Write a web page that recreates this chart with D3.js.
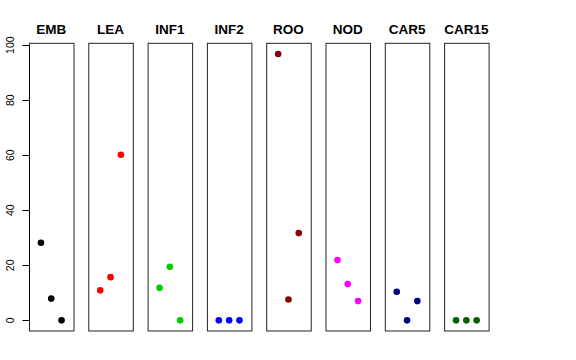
<!DOCTYPE html>
<html>
<head>
<meta charset="utf-8">
<script src="https://cdn.jsdelivr.net/npm/d3@7"></script>
<style>
  body { margin: 0; background: #fff; }
  text { font-family: "Liberation Sans", Arial, sans-serif; }
</style>
</head>
<body>
<script>
const panels = ['EMB', 'LEA', 'INF1', 'INF2', 'ROO', 'NOD', 'CAR5', 'CAR15'];
const colors = ['#000000', '#FF0000', '#00CD00', '#0000FF', '#8B0000', '#FF00FF', '#000080', '#006400'];
const values = [
  [28.2, 7.9, 0],
  [10.9, 15.7, 60.2],
  [11.8, 19.5, 0],
  [0, 0, 0],
  [96.8, 7.6, 31.7],
  [21.9, 13.2, 7.0],
  [10.4, 0, 7.0],
  [0, 0, 0],
];
const yTicks = [0, 20, 40, 60, 80, 100];

const width = 576;
const height = 360;
const plotTop = 43.3;
const plotBottom = 331;
const firstLeft = 29;
const panelW = 44.5;
const step = 59.3;

const svg = d3.select('body').append('svg')
  .attr('width', width)
  .attr('height', height);

// R style: pad range by 4% on each side
const yMax = d3.max(values.flat());
const yPad = yMax * 0.04;
const yScale = d3.scaleLinear()
  .domain([0 - yPad, yMax + yPad])
  .range([plotBottom, plotTop]);

const xScale = d3.scaleLinear()
  .domain([-0.16, 4.16])
  .range([0, panelW]);

panels.forEach((name, i) => {
  const g = svg.append('g')
    .attr('transform', `translate(${firstLeft + i * step},0)`);

  g.append('rect')
    .attr('x', 0.5)
    .attr('y', plotTop)
    .attr('width', panelW)
    .attr('height', plotBottom - plotTop)
    .attr('fill', 'none')
    .attr('stroke', '#222')
    .attr('stroke-width', 1);

  g.append('text')
    .attr('x', panelW / 2)
    .attr('y', 34)
    .attr('text-anchor', 'middle')
    .attr('font-weight', 'bold')
    .attr('font-size', 13.5)
    .text(name);

  g.selectAll('circle')
    .data(values[i])
    .enter()
    .append('circle')
    .attr('cx', (d, j) => xScale(j + 1))
    .attr('cy', (d) => yScale(d))
    .attr('r', 3.3)
    .attr('fill', colors[i]);
});

// y axis on the first panel, ticks pointing left
const axis = svg.append('g')
  .attr('transform', `translate(${firstLeft + 0.5},0)`);

axis.append('line')
  .attr('y1', yScale(0))
  .attr('y2', yScale(100))
  .attr('stroke', '#000');

axis.selectAll('.tick')
  .data(yTicks)
  .enter()
  .append('line')
  .attr('x1', 0)
  .attr('x2', -7)
  .attr('y1', (d) => Math.round(yScale(d)) + 0.5)
  .attr('y2', (d) => Math.round(yScale(d)) + 0.5)
  .attr('stroke', '#000');

axis.selectAll('.lab')
  .data(yTicks)
  .enter()
  .append('text')
  .attr('transform', (d) => `translate(${13 - firstLeft},${yScale(d)}) rotate(-90)`)
  .attr('text-anchor', 'middle')
  .attr('font-size', 10.5)
  .text((d) => d);
</script>
</body>
</html>
